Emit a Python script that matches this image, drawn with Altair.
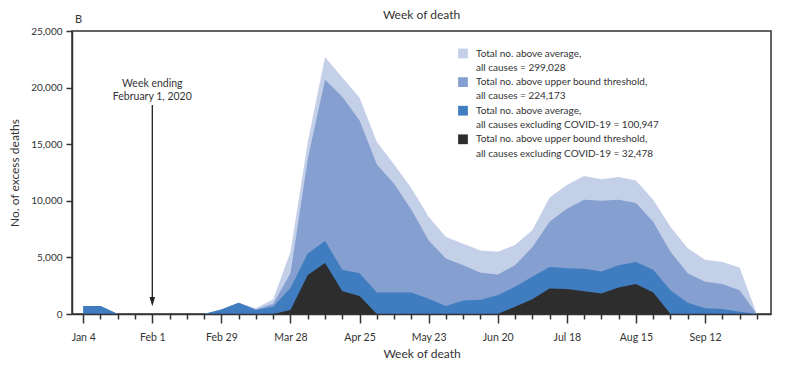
import json
import altair as alt
import pandas as pd

# ---- data ----
weeks = list(range(40))  # week index 0 = week ending Jan 4, 2020 ... 39 = Oct 3
tick_labels = ["Jan 4", "Feb 1", "Feb 29", "Mar 28", "Apr 25", "May 23",
               "Jun 20", "Jul 18", "Aug 15", "Sep 12"]

above_avg_all = [700, 700, 0, 0, 0, 0, 0, 0, 400, 1000,
                 500, 1300, 5500, 15200, 22700, 20900, 19100, 15200, 13200, 11100,
                 8600, 6800, 6200, 5600, 5500, 6100, 7400, 10300, 11400, 12200,
                 11900, 12100, 11800, 10100, 7700, 5800, 4800, 4600, 4100, 0]
above_ub_all = [700, 700, 0, 0, 0, 0, 0, 0, 400, 1000,
                400, 900, 3600, 13700, 20700, 19200, 17100, 13200, 11500, 9200,
                6500, 4900, 4300, 3650, 3500, 4300, 5900, 8150, 9300, 10100,
                10000, 10100, 9800, 8150, 5500, 3600, 2850, 2650, 2100, 0]
above_avg_excl = [700, 700, 0, 0, 0, 0, 0, 0, 400, 1000,
                  350, 650, 2300, 5350, 6450, 3900, 3600, 1900, 1900, 1900,
                  1350, 700, 1200, 1250, 1650, 2400, 3300, 4150, 4050, 4000,
                  3750, 4300, 4600, 3900, 2100, 1000, 500, 450, 200, 0]
above_ub_excl = [0, 0, 0, 0, 0, 0, 0, 0, 0, 0,
                 0, 0, 350, 3450, 4500, 2000, 1600, 0, 0, 0,
                 0, 0, 0, 0, 0, 650, 1300, 2250, 2200, 2000,
                 1800, 2350, 2650, 1900, 0, 0, 0, 0, 0, 0]

legend_lines = ["Total no. above average,",
                "all causes = 299,028",
                "Total no. above upper bound threshold,",
                "all causes = 224,173",
                "Total no. above average,",
                "all causes excluding COVID-19 = 100,947",
                "Total no. above upper bound threshold,",
                "all causes excluding COVID-19 = 32,478"]
series_colors = ["#c4cfe8", "#85a0d0", "#3f7dc0", "#2e2d2e"]

# annotation
arrow_week = 4
arrow_top = 18460
arrow_head = 1100
annot_lines = ["Week ending", "February 1, 2020"]
annot_y = [20360, 19130]

# ---- tables ----
series_list = [above_avg_all, above_ub_all, above_avg_excl, above_ub_excl]
rows = []
for s, vals in enumerate(series_list):
    for w, v in zip(weeks, vals):
        rows.append({"week": w, "deaths": v, "key": 2 * s})
df = pd.DataFrame(rows)

color_range = []
for c in series_colors:
    color_range += [c, "transparent"]

FONT = "Lato"
TXT = "#333333"

x_enc = alt.X(
    "week:Q",
    scale=alt.Scale(domain=[-0.65, 39.82], nice=False, zero=False),
    title="Week of death",
    axis=alt.Axis(
        values=weeks,
        labelExpr=f"datum.value % 4 === 0 ? {json.dumps(tick_labels)}[datum.value / 4] : ''",
        tickSize={"condition": {"test": "datum.value % 4 === 0", "value": 9}, "value": 5},
        tickWidth=1.5, tickColor=TXT,
        domainColor=TXT, domainWidth=1.5,
        labelFont=FONT, labelFontSize=10.5, labelColor=TXT, labelPadding=9,
        labelFlush=False, labelOverlap=False, grid=False,
        titleFont=FONT, titleFontSize=12, titleFontWeight="normal", titleColor=TXT,
        titlePadding=6, zindex=1,
    ),
)
y_enc = alt.Y(
    "deaths:Q",
    scale=alt.Scale(domain=[0, 25000], nice=False),
    title="No. of excess deaths",
    axis=alt.Axis(
        values=[0, 5000, 10000, 15000, 20000, 25000], format=",.0f",
        tickSize=6, tickWidth=1.5, tickColor=TXT,
        domainColor=TXT, domainWidth=1.5,
        labelFont=FONT, labelFontSize=10, labelColor=TXT, labelPadding=4,
        grid=False,
        titleFont=FONT, titleFontSize=12, titleFontWeight="normal", titleColor=TXT,
        titlePadding=9, zindex=1,
    ),
)
color_enc = alt.Color(
    "key:N",
    scale=alt.Scale(domain=list(range(8)), range=color_range),
    legend=alt.Legend(
        title=None, orient="none", legendX=386, legendY=17.5,
        symbolType="square", symbolSize=95, symbolStrokeWidth=0, symbolOpacity=1,
        labelExpr=f"{json.dumps(legend_lines)}[datum.value]",
        labelFont=FONT, labelFontSize=10, labelColor=TXT, labelOffset=8,
        labelLimit=400, rowPadding=4.3, padding=0,
    ),
)

layers = []
for s in range(4):
    layers.append(
        alt.Chart(df).transform_filter(f"datum.key === {2 * s}")
        .mark_area(interpolate="linear", opacity=1)
        .encode(x=x_enc, y=y_enc, color=color_enc)
    )

rule_df = pd.DataFrame({"week": [arrow_week], "deaths": [arrow_top], "d2": [arrow_head]})
rule = alt.Chart(rule_df).mark_rule(color="#222222", strokeWidth=1.3).encode(
    x=x_enc, y=y_enc, y2="d2")
head_df = pd.DataFrame({"week": [arrow_week], "deaths": [arrow_head]})
head = alt.Chart(head_df).mark_point(
    shape="M -0.6 -1 L 0.6 -1 L 0 1 Z", filled=True, size=85, color="#222222", opacity=1
).encode(x=x_enc, y=y_enc)

annot_df = pd.DataFrame({"week": [arrow_week] * 2, "deaths": annot_y, "txt": annot_lines})
annot = alt.Chart(annot_df).mark_text(
    font=FONT, fontSize=10.5, color=TXT, baseline="middle", align="center"
).encode(x=x_enc, y=y_enc, text="txt:N")

panel = alt.Chart(pd.DataFrame({"t": ["B"]})).mark_text(
    font=FONT, fontSize=11, color=TXT, baseline="middle", align="center"
).encode(x=alt.value(6.5), y=alt.value(-11.5), text="t:N")
top_title = alt.Chart(pd.DataFrame({"t": ["Week of death"]})).mark_text(
    font=FONT, fontSize=12, color=TXT, baseline="alphabetic", align="center"
).encode(x=alt.value(349.5), y=alt.value(-12), text="t:N")

chart = alt.layer(*layers, rule, head, annot, panel, top_title).properties(
    width=699, height=283,
    autosize=alt.AutoSizeParams(type="none"),
    padding={"left": 64, "top": 23, "right": 21, "bottom": 50},
).configure_view(stroke=TXT, strokeWidth=1.5)

chart.save("out.html", embed_options={"renderer": "svg", "actions": False})
